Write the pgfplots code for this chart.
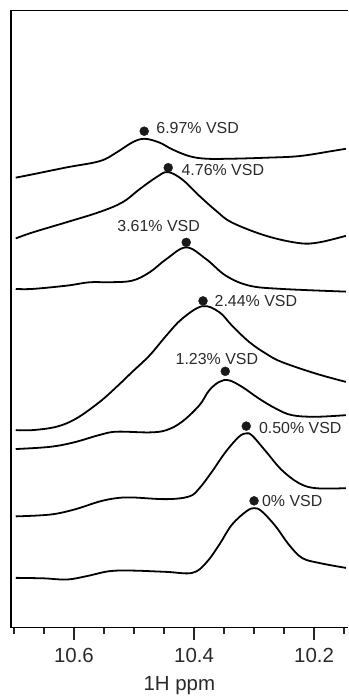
\documentclass[border=0pt]{standalone}
\usepackage{pgfplots}
\pgfplotsset{compat=1.18}
\usepackage{fontspec}
\setmainfont{Liberation Sans}
\definecolor{txt}{HTML}{2A2A2A}
\begin{document}
\begin{tikzpicture}
\begin{axis}[
  name=ax, at={(0pt,0pt)}, anchor=south west,
  scale only axis, width=338pt, height=619.3pt,
  xmin=10.144, xmax=10.705, ymin=0, ymax=619.3,
  x dir=reverse,
  axis line style={draw=none},
  ytick=\empty,
  xtick={10.2,10.4,10.6},
  xticklabels={10.2,10.4,10.6},
  minor xtick={10.15,10.25,10.3,10.35,10.45,10.5,10.55,10.65,10.7},
  xtick pos=left,
  tick align=outside,
  major tick length=12pt, minor tick length=6pt,
  every tick/.style={line width=1.6pt, black!85},
  /pgf/number format/assume math mode=true,
  xticklabel style={font=\fontsize{20.5}{24}\selectfont, text=txt, yshift=-5pt},
  xlabel={1H ppm},
  xlabel style={font=\fontsize{20.5}{24}\selectfont, text=txt, at={(rel axis cs:0.5,0)}, anchor=base, yshift=-63pt},
  clip=false,
]
% 0% VSD
\addplot[smooth, tension=0.6, line width=1.8pt, black] coordinates {
(10.697,50) (10.650,49.5) (10.612,48.3) (10.579,51.7) (10.541,56.7) (10.503,57.3) (10.446,56) (10.403,55) (10.380,65) (10.358,83.3) (10.337,103.3) (10.313,116.7) (10.300,120) (10.287,116.7) (10.264,101.7) (10.242,83.3) (10.220,70) (10.192,65) (10.147,60)};
% 0.50% VSD
\addplot[smooth, tension=0.6, line width=1.8pt, black] coordinates {
(10.697,111.7) (10.640,113.5) (10.600,118.5) (10.557,126.7) (10.529,130) (10.503,130.7) (10.446,129) (10.408,131.7) (10.391,140) (10.370,156.7) (10.347,176.7) (10.325,191.7) (10.313,195) (10.303,192.7) (10.280,176.7) (10.254,158.3) (10.225,145) (10.197,140) (10.147,140)};
% 1.23% VSD
\addplot[smooth, tension=0.6, line width=1.8pt, black] coordinates {
(10.697,179.3) (10.640,181.5) (10.600,186) (10.557,193.5) (10.529,196.7) (10.474,196) (10.446,198.3) (10.420,206.7) (10.391,223.3) (10.375,238) (10.358,246.7) (10.342,248.3) (10.320,241.7) (10.292,230) (10.264,220) (10.237,213.3) (10.197,211.7) (10.147,213.3)};
% 2.44% VSD
\addplot[smooth, tension=0.6, line width=1.8pt, black] coordinates {
(10.697,198.3) (10.669,198.3) (10.629,201.7) (10.596,210) (10.557,226.7) (10.529,241.7) (10.503,256.7) (10.474,273.3) (10.446,293.3) (10.420,310) (10.386,322.7) (10.358,316.7) (10.337,303.3) (10.308,286.7) (10.280,275) (10.254,266.7) (10.197,255) (10.147,246.7)};
% 3.61% VSD
\addplot[smooth, tension=0.6, line width=1.8pt, black] coordinates {
(10.697,340) (10.669,340) (10.612,343.3) (10.574,346.7) (10.541,346.7) (10.503,348.3) (10.474,356.7) (10.446,370) (10.413,381.7) (10.380,370) (10.347,353.3) (10.308,343.3) (10.254,340) (10.147,337.3)};
% 4.76% VSD
\addplot[smooth, tension=0.6, line width=1.8pt, black] coordinates {
(10.697,390.7) (10.669,396.7) (10.612,407) (10.557,417.3) (10.519,427) (10.491,440) (10.463,452) (10.444,457.3) (10.420,450) (10.391,433.3) (10.363,418.3) (10.337,406.7) (10.280,393.3) (10.225,386) (10.192,386.7) (10.147,393.3)};
% 6.97% VSD
\addplot[smooth, tension=0.6, line width=1.8pt, black] coordinates {
(10.697,451.7) (10.669,455) (10.612,462) (10.557,468.3) (10.529,477) (10.503,487) (10.483,490.7) (10.458,487) (10.436,480) (10.408,473.3) (10.380,470.7) (10.337,470.7) (10.280,471.7) (10.225,473.3) (10.171,478.3) (10.147,480.7)};
% peak markers
\addplot[only marks, mark=*, mark size=4.5pt, color=black!90] coordinates {
(10.300,127.3) (10.313,202.3) (10.348,257.3) (10.385,328) (10.413,386.7) (10.443,461.7) (10.483,498.3)};
\begin{scope}[every node/.style={font=\fontsize{16}{19}\selectfont, text=txt, inner sep=0pt}]
\node[anchor=west] at (axis cs:10.287,126.7) {0\% VSD};
\node[anchor=west] at (axis cs:10.292,200) {0.50\% VSD};
\node at (axis cs:10.362,270) {1.23\% VSD};
\node[anchor=west] at (axis cs:10.366,327.7) {2.44\% VSD};
\node at (axis cs:10.459,403.3) {3.61\% VSD};
\node[anchor=west] at (axis cs:10.421,459) {4.76\% VSD};
\node[anchor=west] at (axis cs:10.463,501.7) {6.97\% VSD};
\end{scope}
\end{axis}
\draw[line width=1.6pt, black] (338pt,619.3pt) -- (0pt,619.3pt) -- (0pt,0pt) -- (338pt,0pt);
\path (-11pt,-68pt) rectangle (338pt,630pt);
\end{tikzpicture}
\end{document}
